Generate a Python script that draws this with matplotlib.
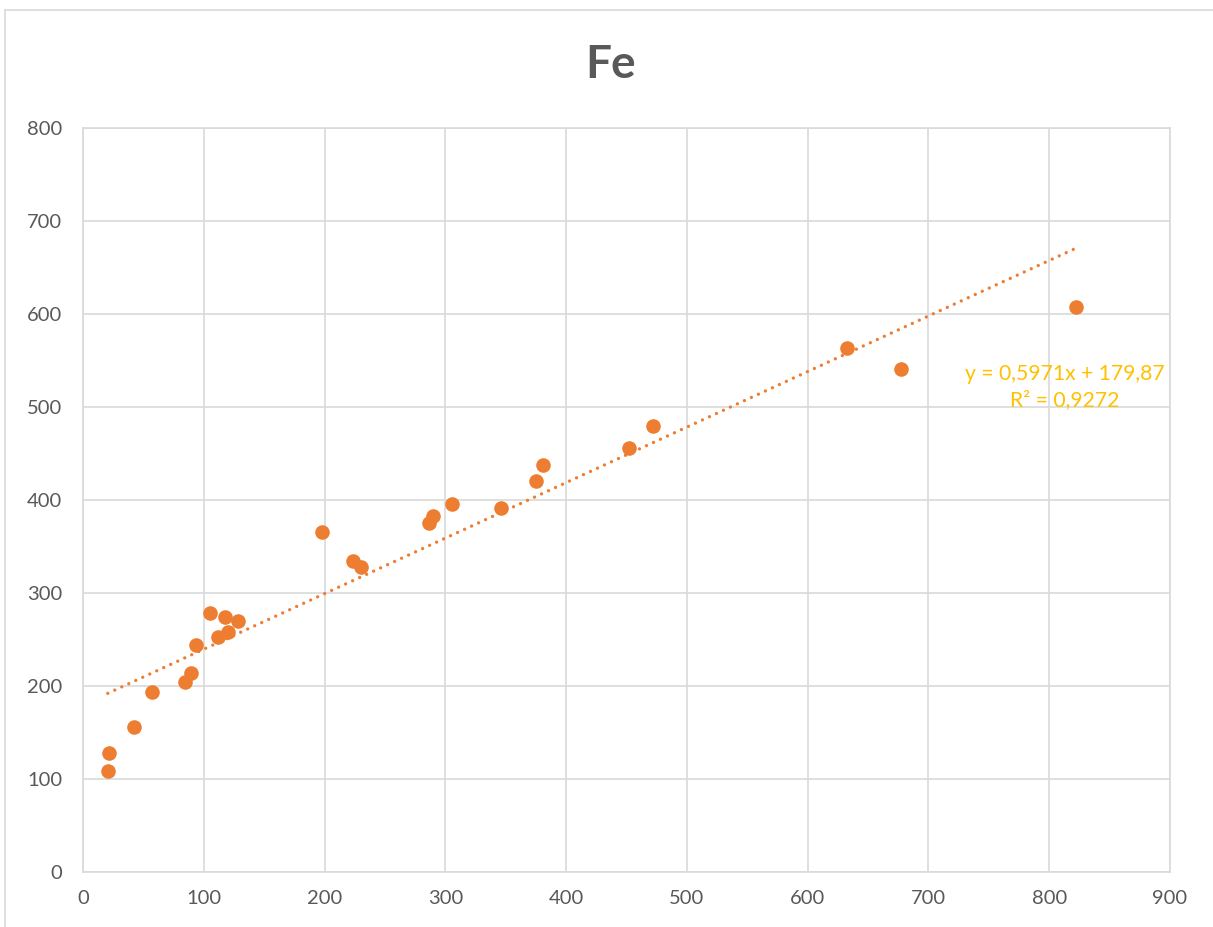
import numpy as np
import matplotlib
matplotlib.use("Agg")
import matplotlib.pyplot as plt
from matplotlib.lines import Line2D

# scatter data
fe_x = [20.5, 21.8, 42.2, 57.1, 84.2, 89.4, 93.8, 104.9, 112.0, 117.3, 120.3, 128.1,
        198.1, 223.8, 229.9, 286.7, 290.0, 305.8, 345.8, 374.8, 380.9, 452.3, 471.7,
        632.6, 677.3, 822.2]
fe_y = [108.6, 128.3, 156.2, 193.2, 204.3, 214.0, 243.8, 278.2, 252.4, 273.9, 258.4, 269.6,
        365.3, 334.4, 327.6, 375.6, 383.1, 395.7, 391.1, 420.1, 437.6, 455.6, 479.2,
        563.4, 540.9, 607.5]

# linear trendline shown on the chart
slope = 0.5971
intercept = 179.87
r_squared = 0.9272

x_ticks = [0, 100, 200, 300, 400, 500, 600, 700, 800, 900]
y_ticks = [0, 100, 200, 300, 400, 500, 600, 700, 800]

ORANGE = "#ED7D31"
GRID = "#D9D9D9"
TEXT = "#595959"
GOLD = "#FFC000"

plt.rcParams['font.family'] = ['Lato', 'DejaVu Sans']

W, H = 1213, 927
fig = plt.figure(figsize=(W / 100, H / 100), dpi=100)
ax = fig.add_axes([83 / W, (H - 872) / H, (1170 - 83) / W, (872 - 128) / H])

ax.set_xlim(0, 900)
ax.set_ylim(0, 800)
ax.set_xticks(x_ticks)
ax.set_yticks(y_ticks)
ax.grid(True, color=GRID, linewidth=1.2)
ax.set_axisbelow(True)
for s in ax.spines.values():
    s.set_color(GRID)
    s.set_linewidth(1.2)
ax.tick_params(length=0, labelsize=14.5, labelcolor=TEXT)
ax.tick_params(axis='y', pad=15)
ax.tick_params(axis='x', pad=13)

# trendline
tx = np.array([min(fe_x), max(fe_x)])
ax.plot(tx, slope * tx + intercept, color=ORANGE, linewidth=2.4,
        linestyle=(0, (0.01, 2.3)), dash_capstyle='round', zorder=2)

ax.plot(fe_x, fe_y, 'o', color=ORANGE, markersize=10.5, markeredgewidth=0, zorder=3)

eq = f"y = {slope:.4f}x + {intercept:.2f}\nR² = {r_squared:.4f}".replace(".", ",")
fig.text(1065 / W, 1 - 387 / H, eq, ha='center', va='center', multialignment='center',
         color=GOLD, fontsize=15.2, linespacing=1.4)

fig.text(611 / W, 1 - 65 / H, "Fe", ha='center', va='center', fontsize=33,
         fontweight='bold', color=TEXT)

# chart area border (top and left edges visible)
fig.add_artist(Line2D([5 / W, 1.0], [1 - 10 / H, 1 - 10 / H], color=GRID, linewidth=1.2))
fig.add_artist(Line2D([5 / W, 5 / W], [0.0, 1 - 10 / H], color=GRID, linewidth=1.2))

fig.savefig("out.png", dpi=100)
